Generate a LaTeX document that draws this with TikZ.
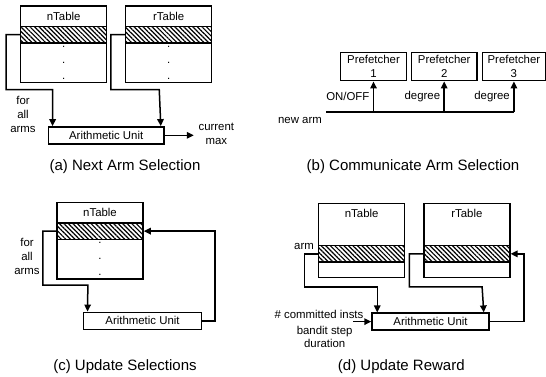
\documentclass[tikz,border=0pt]{standalone}
\usepackage{fontspec}
\setmainfont{Liberation Sans}
\usetikzlibrary{arrows.meta,patterns.meta}

\begin{document}
\begin{tikzpicture}[x = 1pt, y = -1pt, line width = 1.5pt,
    font = \fontsize{11.4}{13.5}\selectfont,
    arr/.style = {-{Triangle[length = 7pt, width = 6.5pt]}},
    head/.style = {draw, minimum width = 86pt, minimum height = 20.5pt, inner sep = 0pt},
    tallhead/.style = {draw, minimum width = 86pt, minimum height = 42.4pt, inner sep = 0pt},
    hatch/.style = {draw, minimum width = 86pt, minimum height = 16.3pt, inner sep = 0pt,
        pattern = {Lines[angle = -45, distance = 3.2pt, line width = 1.2pt]}},
    body/.style = {draw, minimum width = 86pt, minimum height = 39.5pt, inner sep = 0pt,
        align = center, font = \fontsize{11.4}{16}\selectfont},
    unit/.style = {draw, minimum height = 17pt, inner sep = 0pt},
    pref/.style = {draw, minimum width = 65.6pt, minimum height = 28.4pt, inner sep = 0pt,
        align = center, font = \fontsize{11.4}{13.3}\selectfont},
    multi/.style = {align = center, font = \fontsize{11.4}{14}\selectfont},
    caption/.style = {font = \fontsize{15}{18}\selectfont}]

    \useasboundingbox (0, 0) rectangle (546, 377);

    % (a)
    \draw
        (63.7, 16.25) node (ntA) [head] {nTable}
        (63.7, 34.65) node (nhA) [hatch] {}
        (63.7, 62.55) node (nbA) [body] {.\\.\\.}
        (168.7, 16.25) node (rtA) [head] {rTable}
        (168.7, 34.65) node (rhA) [hatch] {}
        (168.7, 62.55) node (rbA) [body] {.\\.\\.}
        (106.2, 135.35) node (auA) [unit, minimum width = 115.7pt] {Arithmetic Unit}
        (23, 114.5) node (forA) [multi] {for\\all\\arms}
        (216.3, 134) node (maxA) [multi, inner sep = 4pt] {current\\max}
        (125, 167) node (capA) [caption] {(a) Next Arm Selection}
    ;
    \draw[arr] (nhA.west) -- ++(-14, 0) |- ++(46.6, 55) -- ([xshift = 5pt]auA.north west);
    \draw[arr] (rhA.west) -- ++(-14, 0) |- ++(48.3, 55) -- ([xshift = -4pt]auA.north east);
    \draw[arr] (auA.east) -- (auA.east -| maxA.west);

    % (b)
    \draw
        (373.5, 66.5) node (pf1) [pref] {Prefetcher\\1}
        (444.2, 66.5) node (pf2) [pref] {Prefetcher\\2}
        (513.9, 66.5) node (pf3) [pref, minimum width = 63pt] {Prefetcher\\3}
        (300, 120) node (newarm) {new arm}
        (413, 167) node (capB) [caption] {(b) Communicate Arm Selection}
    ;
    \coordinate (bus) at (326.3, 111.7);
    \draw[line width = 2.3pt] (bus) -- (bus -| pf3.south);
    \draw[arr] (bus -| pf1.south) -- node [left] {ON/OFF} (pf1.south);
    \draw[arr] (bus -| pf2.south) -- node [left] {degree} (pf2.south);
    \draw[arr] (bus -| pf3.south) -- node [left] {degree} (pf3.south);

    % (c)
    \draw
        (100, 212.75) node (ntC) [head] {nTable}
        (100, 231.15) node (nhC) [hatch] {}
        (100, 259.05) node (nbC) [body] {.\\.\\.}
        (142.5, 320.8) node (auC) [unit, minimum width = 118.4pt] {Arithmetic Unit}
        (27, 256.5) node (forC) [multi] {for\\all\\arms}
        (125, 366.7) node (capC) [caption] {(c) Update Selections}
    ;
    \draw[arr] (nhC.west) -- ++(-13.4, 0) |- ++(45, 54) -- ([xshift = 5pt]auC.north west);
    \draw[arr] (auC.east) -- ++(12.6, 0) |- (nhC.east);

    % (d)
    \draw
        (361.7, 224.5) node (ntD) [tallhead, label = {[anchor = north, yshift = -3pt]north:nTable}] {}
        (361.7, 253.85) node (nhD) [hatch] {}
        (361.7, 269.65) node (nbD) [body, minimum height = 15.3pt] {}
        (466.85, 224.5) node (rtD) [tallhead, label = {[anchor = north, yshift = -3pt]north:rTable}] {}
        (466.85, 253.85) node (rhD) [hatch] {}
        (466.85, 269.65) node (rbD) [body, minimum height = 15.3pt] {}
        ([yshift = -2pt]nhD.north west) node (armD) [left] {arm}
        (430.5, 321.65) node (auD) [unit, minimum width = 117pt] {Arithmetic Unit}
        (319, 314) node (instD) {\# committed insts}
        (324.7, 337) node (stepD) [multi, font = \fontsize{11.4}{12.6}\selectfont] {bandit step\\duration}
        (401.3, 366.7) node (capD) [caption] {(d) Update Reward}
    ;
    \draw[arr] (nhD.west) -- ++(-13.4, 0) |- ++(72.7, 33) -- ([xshift = 6pt]auD.north west);
    \draw[arr] (rhD.west) -- ++(-13.7, 0) |- ++(72.7, 33) -- ([xshift = -6pt]auD.north east);
    \draw[arr] (auD.east) -- ++(34, 0) |- (rhD.east);
    \draw[arr] ([xshift = -14pt]auD.west -| instD.east) -- (auD.west);
\end{tikzpicture}
\end{document}
